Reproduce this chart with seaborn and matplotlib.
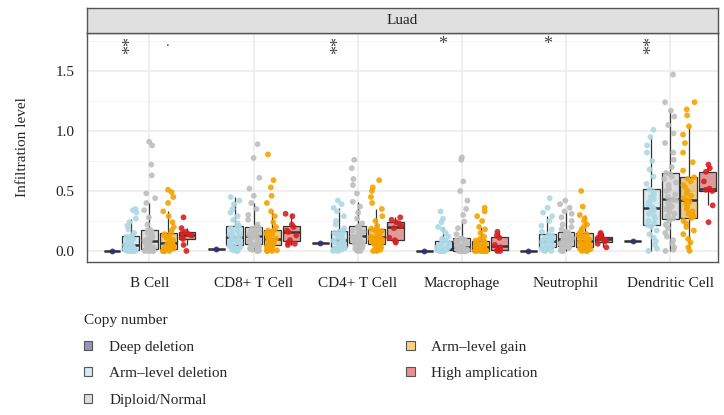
import numpy as np
import pandas as pd
import matplotlib
matplotlib.use('Agg')
import matplotlib.pyplot as plt
import seaborn as sns
from matplotlib.colors import to_rgba
from matplotlib.patches import Patch

sns.set_style('white')
plt.rcParams['font.family'] = ['Liberation Serif', 'DejaVu Serif']

# Categorias
cells = ['B Cell', 'CD8+ T Cell', 'CD4+ T Cell', 'Macrophage', 'Neutrophil', 'Dendritic Cell']
groups = ['Deep deletion', 'Arm–level deletion', 'Diploid/Normal', 'Arm–level gain', 'High amplication']
point_colors = ['#2d2d7d', '#add8e6', '#bebebe', '#f5a300', '#d71f1f']

# Valores (aproximados)
b_deep = [0.0]
b_armdel = [0.0, 0.0, 0.0, 0.0, 0.0, 0.005, 0.005, 0.01, 0.01, 0.015, 0.02, 0.025, 0.03, 0.035, 0.04, 0.045, 0.05,
            0.06, 0.07, 0.08, 0.09, 0.10, 0.11, 0.12, 0.125, 0.15, 0.18, 0.21, 0.24, 0.27, 0.32, 0.34, 0.35]
b_diploid = [0.0, 0.0, 0.0, 0.0, 0.005, 0.005, 0.01, 0.01, 0.01, 0.015, 0.015, 0.02, 0.03, 0.04, 0.05, 0.055, 0.06,
             0.07, 0.075, 0.08, 0.085, 0.09, 0.10, 0.11, 0.12, 0.13, 0.14, 0.15, 0.16, 0.17, 0.175,
             0.22, 0.28, 0.34, 0.40, 0.44, 0.48, 0.63, 0.72, 0.88, 0.91]
b_gain = [0.0, 0.0, 0.0, 0.0, 0.0, 0.005, 0.01, 0.01, 0.015, 0.02, 0.025, 0.03, 0.035, 0.04, 0.045, 0.05, 0.055,
          0.06, 0.065, 0.07, 0.08, 0.09, 0.10, 0.11, 0.12, 0.13, 0.14, 0.147,
          0.17, 0.20, 0.24, 0.29, 0.33, 0.40, 0.45, 0.49, 0.51]
b_high = [0.0, 0.05, 0.10, 0.11, 0.13, 0.14, 0.15, 0.16, 0.19, 0.28]

cd8_deep = [0.015]
cd8_armdel = [0.0, 0.0, 0.005, 0.01, 0.02, 0.03, 0.035, 0.04, 0.047, 0.055, 0.065, 0.075, 0.085, 0.09, 0.10, 0.105,
              0.114, 0.125, 0.135, 0.15, 0.16, 0.175, 0.19, 0.20, 0.21, 0.23, 0.26, 0.29, 0.32, 0.35, 0.39, 0.42, 0.45]
cd8_diploid = [0.0, 0.0, 0.005, 0.01, 0.02, 0.025, 0.03, 0.04, 0.045, 0.05, 0.058, 0.065, 0.075, 0.08, 0.09, 0.095,
               0.10, 0.11, 0.115, 0.12, 0.128, 0.135, 0.14, 0.15, 0.155, 0.16, 0.17, 0.175, 0.185, 0.19, 0.197,
               0.22, 0.26, 0.30, 0.35, 0.40, 0.46, 0.52, 0.61, 0.775, 0.89]
cd8_gain = [0.0, 0.0, 0.0, 0.005, 0.01, 0.02, 0.03, 0.04, 0.045, 0.053, 0.06, 0.065, 0.07, 0.075, 0.08, 0.085, 0.09,
            0.095, 0.103, 0.11, 0.12, 0.13, 0.14, 0.145, 0.15, 0.16, 0.17, 0.175,
            0.20, 0.24, 0.29, 0.33, 0.40, 0.46, 0.53, 0.59, 0.805]
cd8_high = [0.05, 0.06, 0.07, 0.09, 0.13, 0.158, 0.17, 0.20, 0.22, 0.29, 0.31]

cd4_deep = [0.064]
cd4_armdel = [0.0, 0.0, 0.005, 0.01, 0.015, 0.02, 0.025, 0.03, 0.036, 0.045, 0.05, 0.06, 0.065, 0.075, 0.08, 0.085,
              0.092, 0.10, 0.11, 0.12, 0.13, 0.14, 0.15, 0.16, 0.17, 0.19, 0.22, 0.25, 0.29, 0.33, 0.36, 0.39, 0.42]
cd4_diploid = [0.0, 0.0, 0.005, 0.01, 0.02, 0.03, 0.04, 0.045, 0.05, 0.06, 0.065, 0.07, 0.08, 0.085, 0.09, 0.10,
               0.105, 0.11, 0.115, 0.12, 0.127, 0.135, 0.145, 0.15, 0.16, 0.17, 0.175, 0.185, 0.19, 0.20, 0.205,
               0.23, 0.27, 0.32, 0.37, 0.41, 0.48, 0.55, 0.60, 0.69, 0.76]
cd4_gain = [0.0, 0.0, 0.005, 0.01, 0.02, 0.03, 0.04, 0.045, 0.05, 0.058, 0.065, 0.07, 0.08, 0.085, 0.09, 0.095, 0.10,
            0.105, 0.114, 0.12, 0.13, 0.14, 0.15, 0.16, 0.165, 0.175, 0.18, 0.186,
            0.21, 0.25, 0.29, 0.35, 0.40, 0.45, 0.50, 0.53, 0.59]
cd4_high = [0.07, 0.08, 0.09, 0.11, 0.19, 0.21, 0.23, 0.24, 0.26, 0.28]

mac_deep = [0.0]
mac_armdel = [0.0, 0.0, 0.0, 0.0, 0.0, 0.0, 0.005, 0.005, 0.008, 0.01, 0.01, 0.012, 0.014, 0.015, 0.017, 0.018,
              0.02, 0.025, 0.03, 0.04, 0.05, 0.06, 0.07, 0.08, 0.086, 0.10, 0.12, 0.15, 0.18, 0.20, 0.24, 0.27, 0.33]
mac_diploid = [0.0, 0.0, 0.0, 0.0, 0.0, 0.0, 0.0, 0.0, 0.0, 0.0, 0.003, 0.005, 0.008, 0.01, 0.012, 0.015, 0.018,
               0.02, 0.023, 0.026, 0.03, 0.035, 0.04, 0.05, 0.055, 0.065, 0.075, 0.085, 0.09, 0.10, 0.105,
               0.14, 0.19, 0.245, 0.30, 0.35, 0.42, 0.50, 0.58, 0.76, 0.78]
mac_gain = [0.0, 0.0, 0.0, 0.0, 0.0, 0.0, 0.0, 0.0, 0.0, 0.003, 0.006, 0.01, 0.013, 0.016, 0.02, 0.024, 0.028,
            0.032, 0.035, 0.04, 0.045, 0.05, 0.055, 0.06, 0.07, 0.075, 0.08, 0.086,
            0.10, 0.12, 0.15, 0.18, 0.20, 0.25, 0.29, 0.33, 0.36]
mac_high = [0.0, 0.0, 0.01, 0.03, 0.05, 0.11, 0.13, 0.16]

neu_deep = [0.0]
neu_armdel = [0.0, 0.0, 0.005, 0.01, 0.015, 0.02, 0.025, 0.03, 0.035, 0.04, 0.045, 0.05, 0.055, 0.06, 0.065, 0.07,
              0.08, 0.085, 0.09, 0.10, 0.105, 0.11, 0.12, 0.13, 0.14, 0.16, 0.18, 0.21, 0.25, 0.29, 0.32, 0.36, 0.44]
neu_diploid = [0.0, 0.0, 0.005, 0.01, 0.015, 0.02, 0.025, 0.03, 0.035, 0.04, 0.045, 0.05, 0.055, 0.06, 0.07, 0.075,
               0.08, 0.085, 0.09, 0.095, 0.097, 0.10, 0.105, 0.11, 0.12, 0.125, 0.13, 0.14, 0.145, 0.155, 0.16,
               0.18, 0.20, 0.22, 0.25, 0.28, 0.31, 0.33, 0.36, 0.39, 0.42]
neu_gain = [0.0, 0.0, 0.0, 0.005, 0.01, 0.015, 0.02, 0.025, 0.03, 0.036, 0.04, 0.045, 0.05, 0.055, 0.06, 0.065, 0.07,
            0.075, 0.083, 0.09, 0.095, 0.10, 0.11, 0.12, 0.125, 0.13, 0.14, 0.147,
            0.16, 0.18, 0.20, 0.22, 0.25, 0.27, 0.30, 0.37, 0.50]
neu_high = [0.03, 0.06, 0.078, 0.09, 0.097, 0.11, 0.12, 0.14, 0.15]

dc_deep = [0.083]
dc_armdel = [0.0, 0.02, 0.05, 0.08, 0.11, 0.14, 0.17, 0.20, 0.217, 0.23, 0.25, 0.27, 0.29, 0.31, 0.33, 0.34,
             0.355, 0.37, 0.39, 0.41, 0.43, 0.45, 0.47, 0.49, 0.514, 0.56, 0.62, 0.68, 0.75, 0.82, 0.88, 0.95, 1.01]
dc_diploid = [0.0, 0.01, 0.03, 0.06, 0.09, 0.12, 0.15, 0.19, 0.22, 0.25, 0.27, 0.29, 0.31, 0.33, 0.35, 0.37, 0.38,
              0.40, 0.41, 0.42, 0.43, 0.45, 0.47, 0.50, 0.52, 0.55, 0.57, 0.60, 0.62, 0.64, 0.65,
              0.70, 0.76, 0.82, 0.90, 0.98, 1.05, 1.12, 1.17, 1.24, 1.47]
dc_gain = [0.0, 0.03, 0.07, 0.10, 0.14, 0.17, 0.20, 0.23, 0.25, 0.275, 0.29, 0.31, 0.33, 0.35, 0.37, 0.39, 0.40,
           0.41, 0.425, 0.44, 0.46, 0.48, 0.50, 0.53, 0.55, 0.58, 0.60, 0.614,
           0.67, 0.74, 0.82, 0.90, 0.97, 1.04, 1.13, 1.18, 1.24]
dc_high = [0.24, 0.38, 0.50, 0.51, 0.52, 0.58, 0.66, 0.69, 0.72]

# Significancia (arm-level deletion y arm-level gain vs diploid)
signif_armdel = ['**', '', '**', '*', '*', '**']
signif_gain = ['.', '', '', '', '', '']

valores = {
    'B Cell': [b_deep, b_armdel, b_diploid, b_gain, b_high],
    'CD8+ T Cell': [cd8_deep, cd8_armdel, cd8_diploid, cd8_gain, cd8_high],
    'CD4+ T Cell': [cd4_deep, cd4_armdel, cd4_diploid, cd4_gain, cd4_high],
    'Macrophage': [mac_deep, mac_armdel, mac_diploid, mac_gain, mac_high],
    'Neutrophil': [neu_deep, neu_armdel, neu_diploid, neu_gain, neu_high],
    'Dendritic Cell': [dc_deep, dc_armdel, dc_diploid, dc_gain, dc_high],
}

dodge_step = 0.18
filas = []
for i, cell in enumerate(cells):
    for j, grp in enumerate(groups):
        for v in valores[cell][j]:
            filas.append({'cell': cell, 'group': grp, 'pos': i + (j - 2) * dodge_step, 'value': v})
df = pd.DataFrame(filas)

# Grafico
np.random.seed(3)
fig = plt.figure(figsize=(7.24, 4.15), dpi=100)
ax = fig.add_axes([87/724, 1 - 262/415, 631/724, 229/415])

for y in [0.25, 0.75, 1.25, 1.75]:
    ax.axhline(y, color='#f4f4f4', lw=0.6, zorder=0)
for y in [0.0, 0.5, 1.0, 1.5]:
    ax.axhline(y, color='#ebebeb', lw=1.1, zorder=0)
for x in range(len(cells)):
    ax.axvline(x, color='#ebebeb', lw=1.1, zorder=0)

sns.stripplot(data=df, x='pos', y='value', hue='group', hue_order=groups, palette=point_colors,
              native_scale=True, orient='x', jitter=0.32, size=4.2, alpha=0.9, linewidth=0,
              legend=False, ax=ax)
n_patches = len(ax.patches)
sns.boxplot(data=df, x='pos', y='value', hue='group', hue_order=groups, palette=point_colors,
            native_scale=True, orient='x', dodge=False, width=0.9, showfliers=False,
            linecolor='#333333', linewidth=0.9, showcaps=False,
            medianprops=dict(linewidth=1.8), legend=False, ax=ax)
for p in ax.patches[n_patches:]:
    p.set_facecolor(to_rgba(p.get_facecolor(), 0.5))

for i in range(len(cells)):
    if signif_armdel[i]:
        ax.text(i - dodge_step, 1.72, signif_armdel[i], rotation=90 if len(signif_armdel[i]) > 1 else 0,
                ha='center', va='center', fontsize=13, color='#444444')
    if signif_gain[i]:
        ax.text(i + dodge_step, 1.74, signif_gain[i], ha='center', va='center', fontsize=11, color='#444444')

ax.set_xlim(-0.6, 5.46)
ax.set_ylim(-0.092, 1.817)
ax.set_xticks(range(len(cells)))
ax.set_xticklabels(cells)
ax.set_yticks([0.0, 0.5, 1.0, 1.5])
ax.set_yticklabels(['0.0', '0.5', '1.0', '1.5'])
ax.set_xlabel('')
ax.set_ylabel('Infiltration level', fontsize=11, labelpad=19)
ax.tick_params(axis='both', labelsize=11, colors='#333333', length=4, width=0.8, labelcolor='#222222')
ax.tick_params(axis='y', pad=5)
ax.tick_params(axis='x', pad=7)
for s in ax.spines.values():
    s.set_color('#555555')
    s.set_linewidth(1.0)

# Cabecera del panel
strip = fig.add_axes([87/724, 1 - 33/415, 631/724, 25/415])
strip.set_facecolor('#e0e0e0')
strip.set_xticks([])
strip.set_yticks([])
for s in strip.spines.values():
    s.set_color('#555555')
    s.set_linewidth(1.0)
strip.text(0.5, 0.5, 'Luad', ha='center', va='center', fontsize=11, color='#222222', transform=strip.transAxes)

# Leyenda
handles = [Patch(facecolor=to_rgba(c, 0.5), edgecolor='#555555', linewidth=0.8) for c in point_colors]
leg = fig.legend(handles, groups, title='Copy number', loc='upper left', bbox_to_anchor=(0.097, 1 - 300/415),
                 ncol=2, frameon=False, fontsize=11, title_fontsize=11, handlelength=0.55, handleheight=0.55,
                 handletextpad=1.1, labelspacing=0.9, columnspacing=11.7, alignment='left')

fig.savefig('out.png', dpi=100)
